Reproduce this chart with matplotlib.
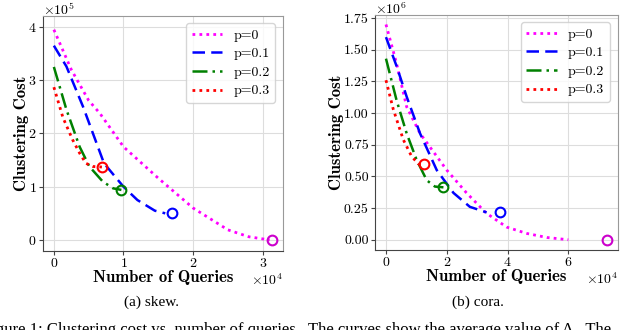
import matplotlib
matplotlib.use("Agg")
import matplotlib.pyplot as plt
from matplotlib.ticker import FuncFormatter

plt.rcParams['font.family'] = 'serif'
plt.rcParams['font.serif'] = ['cmr10']
plt.rcParams['mathtext.fontset'] = 'cm'
plt.rcParams['axes.formatter.use_mathtext'] = True
plt.rcParams['axes.unicode_minus'] = False

labels = ['p=0', 'p=0.1', 'p=0.2', 'p=0.3']
colors = ['#ff00ff', '#0000ff', '#008000', '#ff0000']
marker_colors = ['#cc00cc', '#0000ff', '#008000', '#ff0000']

# skew (x in queries, y in cost)
skew_x = [
    [0, 2500, 5000, 6600, 10000, 15000, 20000, 25000, 28000, 31000],
    [0, 1800, 4200, 7200, 10000, 12000, 14500, 16000],
    [0, 1800, 3700, 5100, 7000, 8500, 9700],
    [0, 1300, 2700, 3700, 4600, 5600, 6900],
]
skew_y = [
    [395000, 320000, 262000, 238000, 175000, 116000, 60000, 19000, 6000, 0],
    [365000, 326000, 250000, 144000, 100000, 75000, 55000, 50000],
    [325000, 245000, 175000, 138000, 110000, 97000, 94000],
    [287000, 230000, 188000, 163000, 144000, 138000, 137000],
]
skew_end_x = [31300, 17000, 9700, 6900]
skew_end_y = [0, 50000, 94000, 137000]

# cora
cora_x = [
    [0, 3500, 6800, 11200, 20000, 26500, 33000, 39700, 46300, 52900, 60000],
    [0, 3500, 6800, 11200, 16700, 22200, 27600, 33100],
    [0, 3500, 6800, 10100, 13400, 16100, 18900],
    [0, 2400, 5700, 8400, 10600, 12500],
]
cora_y = [
    [1700000, 1390000, 1050000, 840000, 550000, 370000, 210000, 100000, 50000, 18000, 0],
    [1600000, 1370000, 1130000, 840000, 550000, 370000, 260000, 216000],
    [1430000, 1100000, 840000, 630000, 470000, 420000, 414000],
    [1260000, 1030000, 790000, 660000, 600000, 596000],
]
cora_end_x = [72800, 37500, 18900, 12500]
cora_end_y = [0, 216000, 414000, 596000]

styles = [
    dict(linestyle=(0, (1, 1.5)), linewidth=2.0),
    dict(linestyle=(0, (5, 2.5)), linewidth=1.8),
    dict(linestyle=(0, (6, 2, 1, 2)), linewidth=1.8),
    dict(linestyle=(0, (1, 1.5)), linewidth=2.0),
]

fig = plt.figure(figsize=(6.4, 3.3), dpi=100)
ax1 = fig.add_axes([0.067, 0.239, 0.375, 0.713])
ax2 = fig.add_axes([0.586, 0.242, 0.379, 0.713])

def draw(ax, xs, ys, ex, ey, xoff, yoff, ypad):
    for i in range(4):
        ax.plot(xs[i], ys[i], color=colors[i], label=labels[i], **styles[i])
        ax.plot([ex[i]], [ey[i]], 'o', markersize=7, markerfacecolor='none',
                markeredgecolor=marker_colors[i], markeredgewidth=1.5)
    ax.grid(True, color='#dddddd', linewidth=0.8)
    ax.set_axisbelow(True)
    for s in ['left', 'bottom']:
        ax.spines[s].set_color('#444444')
    for s in ['top', 'right']:
        ax.spines[s].set_color('#999999')
    ax.tick_params(labelsize=10, length=3, color='#444444', pad=1.5)
    ax.ticklabel_format(style='sci', axis='both', scilimits=(0, 0), useMathText=True)
    ax.xaxis.get_offset_text().set_visible(False)
    ax.yaxis.get_offset_text().set_visible(False)
    ax.set_xlabel('Number of Queries', fontfamily='cmb10', fontsize=12, labelpad=0)
    ax.set_ylabel('Clustering Cost', fontfamily='cmb10', fontsize=12, labelpad=ypad)
    ax.legend(loc='upper right', fontsize=10, handlelength=2.2,
              fancybox=True, framealpha=0.8, edgecolor='#cccccc',
              borderpad=0.4, labelspacing=0.42, handletextpad=0.8,
              borderaxespad=0.55)
    ax.text(1.0, -0.09, xoff, transform=ax.transAxes, fontsize=10,
            ha='right', va='top')
    x0 = ax.get_position().x0
    fig.text(x0, 1 - 1.5/330, yoff, fontsize=10, ha='left', va='top')

draw(ax1, skew_x, skew_y, skew_end_x, skew_end_y, r'$\times10^{4}$', r'$\times10^{5}$', -0.5)
ax1.set_xlim(-1580, 32900)
ax1.set_ylim(-21000, 421000)
ax1.set_xticks([0, 10000, 20000, 30000])
ax1.set_yticks([0, 100000, 200000, 300000, 400000])

draw(ax2, cora_x, cora_y, cora_end_x, cora_end_y, r'$\times10^{4}$', r'$\times10^{6}$', 0)
ax2.set_xlim(-3600, 76200)
ax2.set_ylim(-82000, 1776000)
ax2.set_xticks([0, 20000, 40000, 60000])
ax2.set_yticks([0, 250000, 500000, 750000, 1000000, 1250000, 1500000, 1750000])
ax2.yaxis.set_major_formatter(FuncFormatter(lambda v, p: f'{v/1e6:.2f}'))

fig.text(152/640, 1 - 302/330, '(a) skew.', fontfamily='Liberation Serif',
         fontsize=11, ha='center', va='center')
fig.text(478/640, 1 - 302/330, '(b) cora.', fontfamily='Liberation Serif',
         fontsize=11, ha='center', va='center')
fig.text(-18/640, 1 - 322/330,
         'Figure 1: Clustering cost vs. number of queries.  The curves show the average value of \u0394.  The',
         fontfamily='Liberation Serif', fontsize=12, ha='left', va='top')

fig.savefig('out.png', dpi=100)
